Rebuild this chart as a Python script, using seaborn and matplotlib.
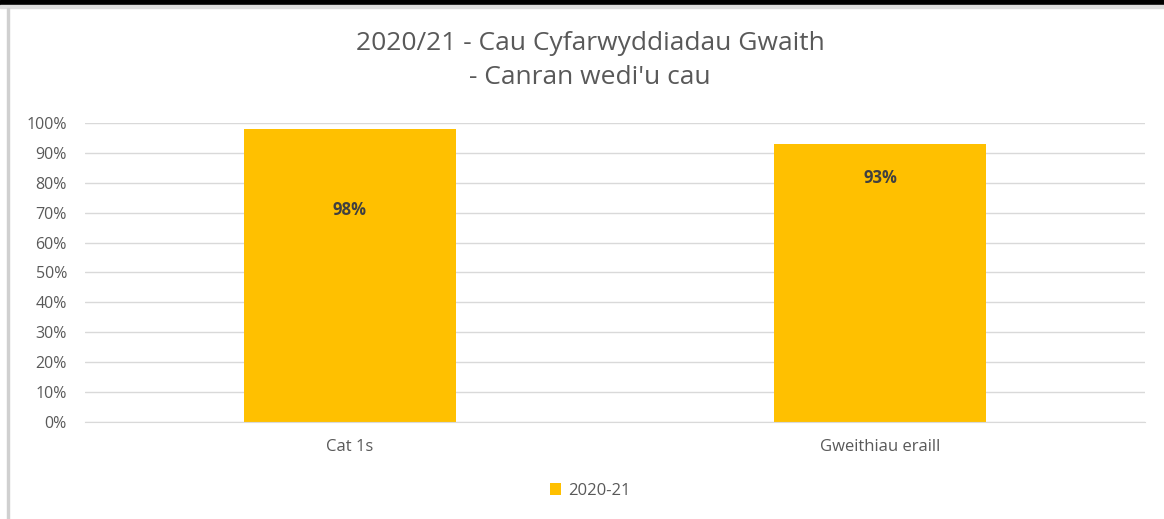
import matplotlib
matplotlib.use("Agg")
import matplotlib.pyplot as plt
import seaborn as sns
import pandas as pd
from matplotlib.patches import Rectangle
from matplotlib.ticker import PercentFormatter

# Data
categories = ["Cat 1s", "Gweithiau eraill"]
values = [98, 93]
series_name = "2020-21"
title = "2020/21 - Cau Cyfarwyddiadau Gwaith\n- Canran wedi'u cau"

df = pd.DataFrame({"Categori": categories, "Canran": values, "Cyfres": series_name})

sns.set_style("white")
plt.rcParams["font.family"] = ["Open Sans", "DejaVu Sans"]

fig = plt.figure(figsize=(11.64, 5.19), dpi=100)
ax = fig.add_axes([0.073, 0.187, 0.9107, 0.576])

sns.barplot(data=df, x="Categori", y="Canran", hue="Cyfres",
            palette=["#FFC000"], saturation=1, width=0.4, linewidth=0,
            ax=ax, legend=True)

ax.set_ylim(0, 100)
ax.set_xlim(-0.5, 1.5)
ax.set_yticks(range(0, 101, 10))
ax.yaxis.set_major_formatter(PercentFormatter(decimals=0))
ax.grid(axis="y", color="#D9D9D9", linewidth=1)
ax.set_axisbelow(True)
for s in ["top", "right", "left"]:
    ax.spines[s].set_visible(False)
ax.spines["bottom"].set_color("#D9D9D9")
ax.tick_params(axis="y", labelsize=11.5, labelcolor="#595959", length=0, pad=13)
ax.tick_params(axis="x", labelsize=12, labelcolor="#595959", length=0, pad=12)
ax.set(xlabel=None, ylabel=None)

# labels inside the bars
label_y = [71, 81.5]
for i, v in enumerate(values):
    ax.text(i, label_y[i], f"{v}%", ha="center", va="center",
            fontsize=12, fontweight="bold", color="#404040")

fig.suptitle(title, x=0.507, y=0.94, fontsize=19, color="#595959",
             linespacing=1.45, va="top")

handles, labels = ax.get_legend_handles_labels()
ax.get_legend().remove()
fig.legend(handles, labels, loc="center", bbox_to_anchor=(0.507, 0.054),
           frameon=False, fontsize=12, handlelength=0.7, handleheight=0.7,
           handletextpad=0.4, labelcolor="#595959")

# frame decorations
fig.patches.append(Rectangle((0, 1 - 5 / 519), 1, 5 / 519, transform=fig.transFigure,
                             color="black", zorder=5))
fig.patches.append(Rectangle((0, 1 - 8 / 519), 1, 3 / 519, transform=fig.transFigure,
                             color="#DDDDDD", zorder=5))
fig.patches.append(Rectangle((7 / 1164, 0), 2 / 1164, 1 - 8 / 519, transform=fig.transFigure,
                             color="#D0D0D0", zorder=5))

fig.savefig("out.png", dpi=100)
